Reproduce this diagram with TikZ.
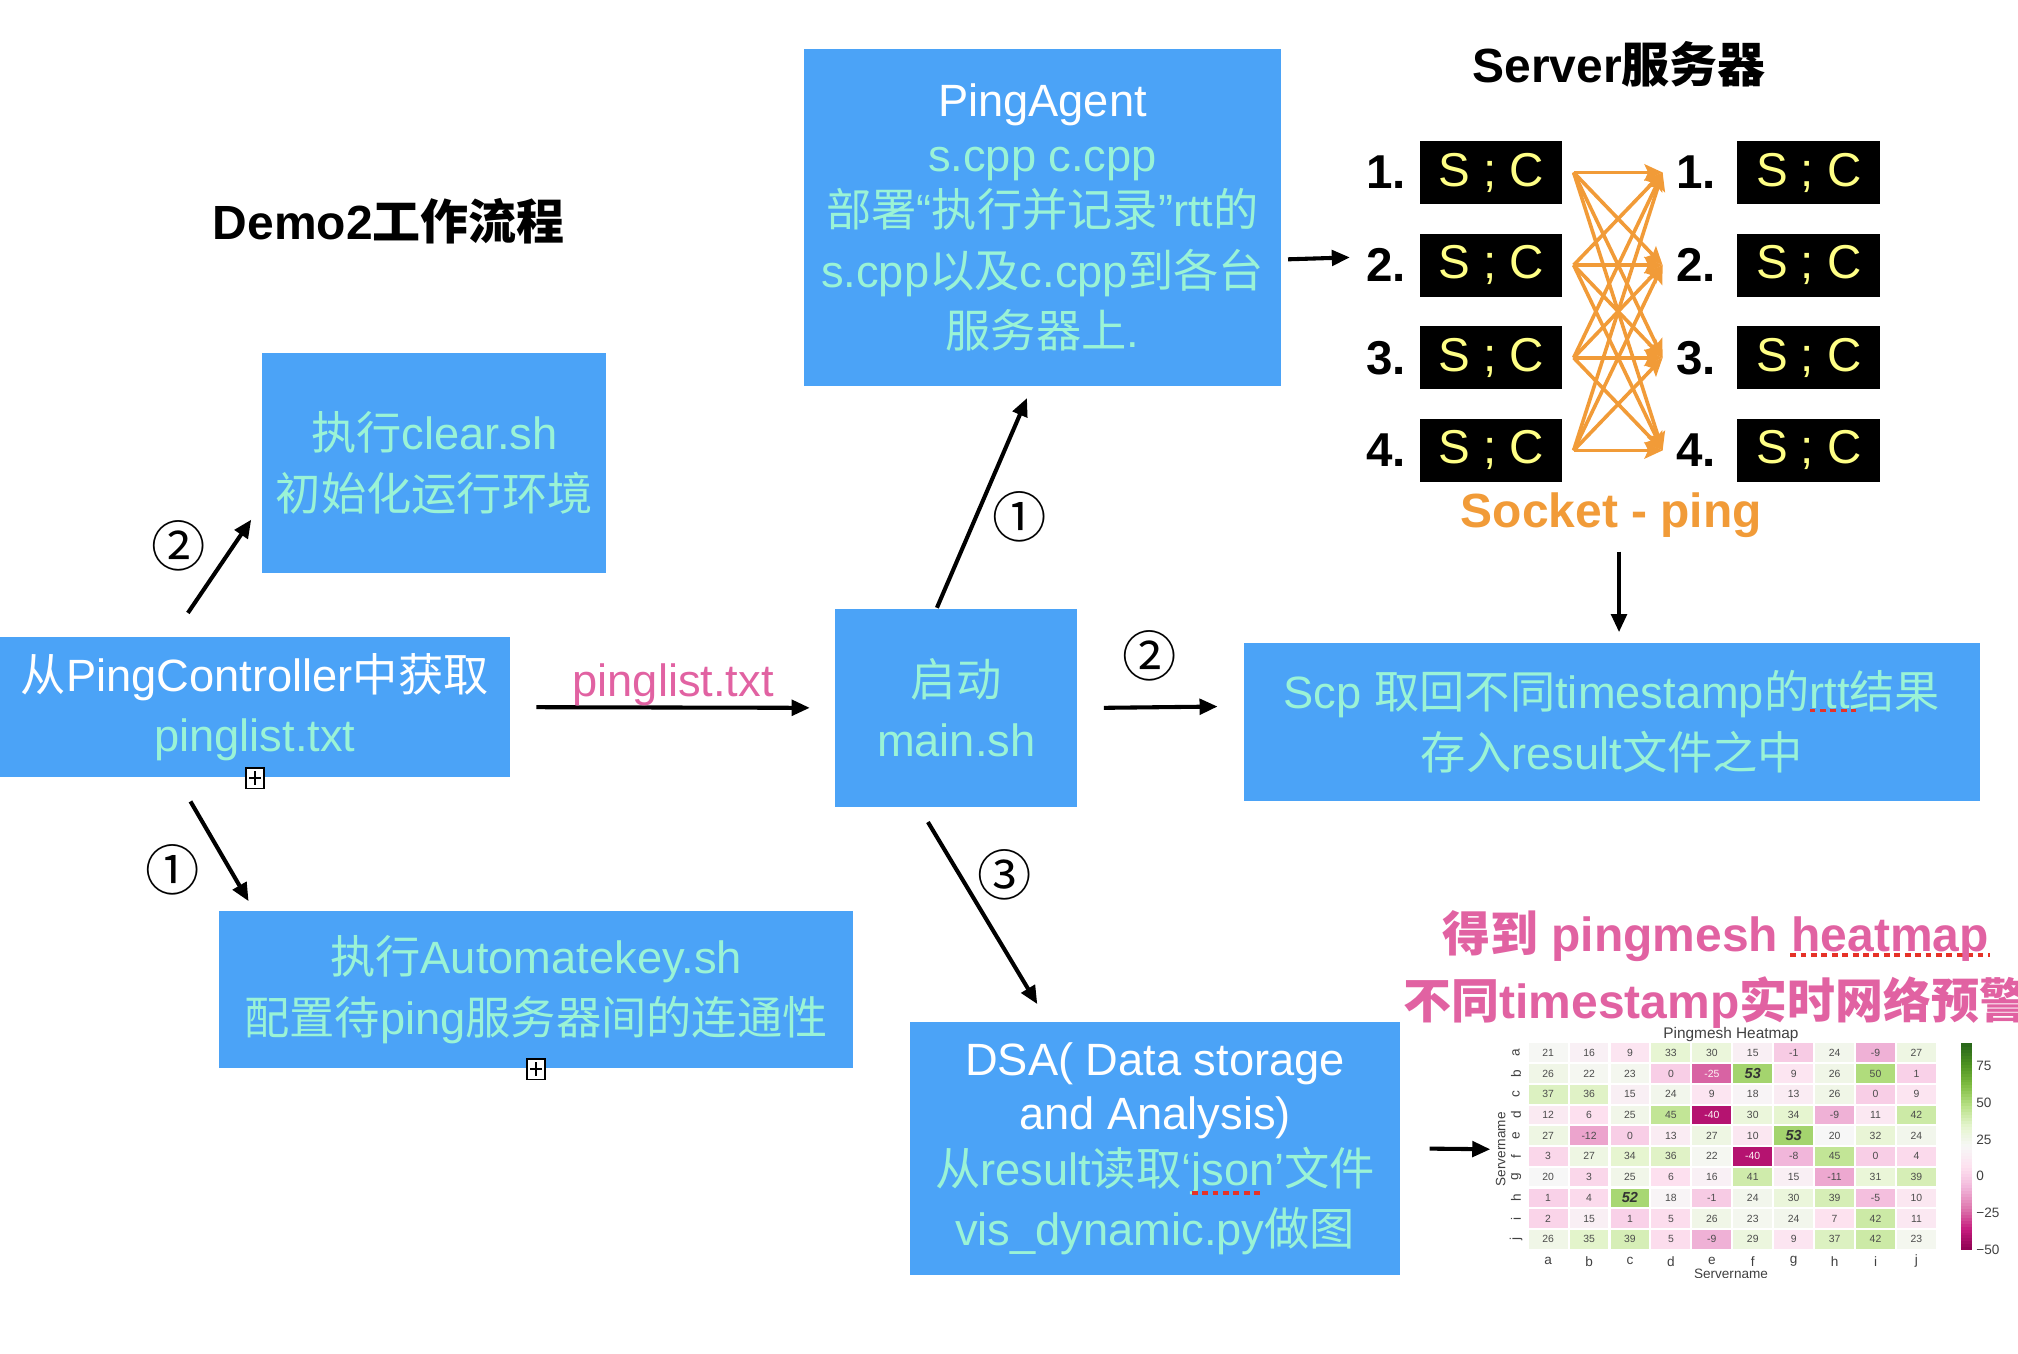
\documentclass[tikz,border=0pt]{standalone}
\usepackage{fontspec}
\setmainfont{Liberation Sans}
\newfontfamily\zhfont{Noto Sans CJK SC}
\newcommand\zh[1]{{\zhfont #1}}
\usetikzlibrary{arrows.meta,calc}

\definecolor{boxblue}{RGB}{75,163,247}
\definecolor{mint}{RGB}{154,243,214}
\definecolor{pinktxt}{RGB}{225,98,162}
\definecolor{pingorange}{RGB}{241,155,56}
\definecolor{scyellow}{RGB}{255,255,133}
\definecolor{spellred}{RGB}{230,50,40}
% PiYG steps, -50 .. 90
\definecolor{pg0}{HTML}{8E0152}
\definecolor{pg1}{HTML}{C51B7D}
\definecolor{pg2}{HTML}{DE77AE}
\definecolor{pg3}{HTML}{F1B6DA}
\definecolor{pg4}{HTML}{FDE0EF}
\definecolor{pg5}{HTML}{F7F7F7}
\definecolor{pg6}{HTML}{E6F5D0}
\definecolor{pg7}{HTML}{B8E186}
\definecolor{pg8}{HTML}{7FBC41}
\definecolor{pg9}{HTML}{4D9221}
\definecolor{pg10}{HTML}{276419}
\newcommand\piyg[2]{%
  \pgfmathsetmacro\hmt{max(0,min(9.999,(#1+50)/14))}%
  \pgfmathtruncatemacro\hmk{floor(\hmt)}%
  \pgfmathtruncatemacro\hmkk{\hmk+1}%
  \pgfmathtruncatemacro\hmfrac{100*(\hmt-\hmk)}%
  \colorlet{#2}{pg\hmkk!\hmfrac!pg\hmk}%
}

\tikzset{
  stepbox/.style={fill=boxblue, inner sep=0pt, align=center, text=mint,
    font=\fontsize{10}{13.4}\selectfont},
  headline/.style={inner sep=0pt, font=\bfseries\fontsize{10.6}{12}\selectfont},
  sclabel/.style={inner sep=0pt, font=\bfseries\fontsize{10.5}{12}\selectfont},
  scbox/.style={fill=black, text=scyellow, inner sep=0pt, minimum width=1.11cm,
    minimum height=0.49cm, font=\fontsize{10.5}{12}\selectfont},
  flow/.style={-{Triangle[length=4pt,width=3.4pt]}, line width=0.9pt},
  pingarrow/.style={-{Stealth[length=4pt,width=3.6pt,inset=0.8pt]}, line width=0.8pt,
    draw=pingorange},
  stepnum/.style={inner sep=0pt, font=\zhfont\fontsize{12}{12}\selectfont},
  foldmark/.style={draw, fill=white, line width=0.4pt, minimum width=0.14cm,
    minimum height=0.16cm, inner sep=0pt,
    path picture={\draw[line width=0.35pt]
      ([yshift=-0.25mm]path picture bounding box.north) -- ([yshift=0.25mm]path picture bounding box.south)
      ([xshift=0.25mm]path picture bounding box.west) -- ([xshift=-0.25mm]path picture bounding box.east);}},
  spell/.style={draw=spellred, dash pattern=on 1.3pt off 1pt, line width=0.75pt},
  hmtext/.style={inner sep=0pt, text=black!75, font=\fontsize{3}{3.5}\selectfont},
}

\begin{document}
\begin{tikzpicture}[x=0.01cm,y=-0.01cm]
\useasboundingbox (0,0) rectangle (1568,1052);

% titles
\node[headline] (title) at (302,172) {Demo2\zh{工作流程}};
\node[headline] (server) at (1258,50) {Server\zh{服务器}};

% boxes
\node[stepbox, minimum width=2.67cm, minimum height=1.71cm] (clear) at (337.5,359.5)
  {\zh{执行}clear.sh\\\zh{初始化运行环境}};
\node[stepbox, minimum width=3.96cm, minimum height=1.09cm] (ctrl) at (198,549.5)
  {\textcolor{white}{\zh{从}PingController\zh{中获取}}\\pinglist.txt};
\node[stepbox, minimum width=4.93cm, minimum height=1.22cm] (autokey) at (416.5,769)
  {\zh{执行}Automatekey.sh\\\zh{配置待}ping\zh{服务器间的连通性}};
\node[stepbox, minimum width=3.70cm, minimum height=2.61cm] (agent) at (810,169)
  {\textcolor{white}{PingAgent}\\[-1.2pt]s.cpp c.cpp\\[-1.2pt]\zh{部署}“\zh{执行并记录}”rtt\zh{的}\\s.cpp\zh{以及}c.cpp\zh{到各台}\\\zh{服务器上}.};
\node[stepbox, minimum width=1.88cm, minimum height=1.54cm] (mainsh) at (743,550)
  {\zh{启动}\\main.sh};
\node[stepbox, minimum width=5.71cm, minimum height=1.22cm] (scp) at (1252.5,561)
  {Scp \zh{取回不同}timestamp\zh{的}rtt\zh{结果}\\\zh{存入}result\zh{文件之中}};
\node[stepbox, minimum width=3.81cm, minimum height=1.97cm] (dsa) at (897.5,892.5)
  {\textcolor{white}{DSA( Data storage}\\[-1.4pt]\textcolor{white}{and Analysis)}\\[-1.1pt]\zh{从}result\zh{读取}‘json’\zh{文件}\\vis\_dynamic.py\zh{做图}};

\node[foldmark] (fold1) at (ctrl.south) {};
\node[foldmark] (fold2) at (autokey.south) {};

% spell marks
\draw[spell] (1406,552) -- (1442,552);
\draw[spell] (926,927) -- (981,927);
\draw[spell] (1391,742) -- (1546,742);

% servers
\foreach \y [count=\k] in {134,206,278,350} {
  \node[sclabel] (l\k) at (1077,\y) {\k.};
  \node[scbox] (sl\k) at (1158.5,\y) {S ; C};
  \node[sclabel] (r\k) at (1318,\y) {\k.};
  \node[scbox] (sr\k) at (1405.5,\y) {S ; C};
}
\foreach \i in {1,...,4}
  \foreach \j in {1,...,4}
    \draw[pingarrow] ($(sl\i.east)+(8,0)$) -- ($(r\j.west)+(-10,0)$);
\node[headline, text=pingorange] (socket) at (1252,400) {Socket - ping};

% circled steps
\node[stepnum] (s1a) at (134,676) {①};
\node[stepnum] (s2a) at (139,424) {②};
\node[stepnum] (s1b) at (792,402) {①};
\node[stepnum] (s2b) at (893,510) {②};
\node[stepnum] (s3b) at (781,680) {③};

% flow
\draw[flow] ($(ctrl.south)+(-50,18)$) -- ($(autokey.north west)+(24,-7)$);
\draw[flow] ($(ctrl.north)+(-52,-18)$) -- ($(clear.south west)+(-8,-42)$);
\draw[flow] ($(ctrl.east)+(20,0)$) -- node[midway, above, inner sep=0pt, text=pinktxt,
  font=\fontsize{10}{12}\selectfont] (plist) {pinglist.txt} ($(mainsh.west)+(-19,0)$);
\draw[flow] ($(mainsh.north)+(-15,0)$) -- ($(agent.south)+(-12,9)$);
\draw[flow] ($(mainsh.east)+(20,0)$) -- ($(scp.west)+(-20,-12)$);
\draw[flow] ($(mainsh.south)+(-22,11)$) -- ($(dsa.north)+(-91.5,-13)$);
\draw[flow] ($(agent.east)+(5,32.5)$) -- ($(l2.west)+(-12,-6)$);
\draw[flow] ($(socket.south)+(6,10.5)$) -- ($(scp.north)+(5.5,-8)$);

% heatmap
\node[inner sep=0pt, align=center, text=pinktxt, font=\bfseries\fontsize{10.6}{14.8}\selectfont]
  (goal) at (1333,753) {\zh{得到} pingmesh heatmap\\\zh{不同}timestamp\zh{实时网络预警}};
\coordinate (hmin) at (1158,893);
\draw[flow] ($(dsa.east)+(22,0)$) -- (hmin);

\begin{scope}
\clip (1150,790) rectangle (1568,993);
\node[hmtext, font=\fontsize{3.4}{4}\selectfont] (hmtitle) at (1345,804) {Pingmesh Heatmap};
\foreach \row [count=\i from 0] in {
  {21,16,9,33,30,15,-1,24,-9,27},
  {26,22,23,0,-25,53,9,26,50,1},
  {37,36,15,24,9,18,13,26,0,9},
  {12,6,25,45,-40,30,34,-9,11,42},
  {27,-12,0,13,27,10,53,20,32,24},
  {3,27,34,36,22,-40,-8,45,0,4},
  {20,3,25,6,16,41,15,-11,31,39},
  {1,4,52,18,-1,24,30,39,-5,10},
  {2,15,1,5,26,23,24,7,42,11},
  {26,35,39,5,-9,29,9,37,42,23}} {
  \foreach \v [count=\j from 0] in \row {
    \piyg{\v}{cellc}
    \fill[cellc] ({1187.8+31.8*\j},{810.8+16.1*\i}) rectangle ++(30.2,14.5);
    \ifnum\v>51
      \node[inner sep=0pt, text=black!80, font=\bfseries\itshape\fontsize{3.2}{4}\selectfont]
        (cell\i-\j) at ({1202.9+31.8*\j},{818+16.1*\i}) {\v};
    \else\ifnum\v<-20
      \node[inner sep=0pt, text=white!85!pink, font=\fontsize{2.3}{3}\selectfont]
        (cell\i-\j) at ({1202.9+31.8*\j},{818+16.1*\i}) {\v};
    \else
      \node[inner sep=0pt, text=black!70, font=\fontsize{2.3}{3}\selectfont]
        (cell\i-\j) at ({1202.9+31.8*\j},{818+16.1*\i}) {\v};
    \fi\fi
  }
}
\foreach \lab [count=\i from 0] in {a,b,c,d,e,f,g,h,i,j} {
  \node[hmtext, rotate=90] (row\lab) at (1178,{818+16.1*\i}) {\lab};
  \node[hmtext] (col\lab) at ({1202.9+31.8*\i},980) {\lab};
}
\node[hmtext, rotate=90] (ylab) at (1166,893) {Servername};
\node[hmtext] (xlab) at (1345,990) {Servername};
% colour bar
\foreach \c in {-50,-48,...,88} {
  \piyg{\c+1}{cellc}
  \fill[cellc] (1524,{971-(\c+50)/140*160+0.4}) rectangle (1532,{971-(\c+52)/140*160-0.4});
}
\foreach \t/\lab in {75/75,50/50,25/25,0/0,-25/−25,-50/−50}
  \node[hmtext, anchor=west] (bar\t) at (1535,{971-(\t+50)/140*160}) {\lab};
\end{scope}
\end{tikzpicture}
\end{document}
